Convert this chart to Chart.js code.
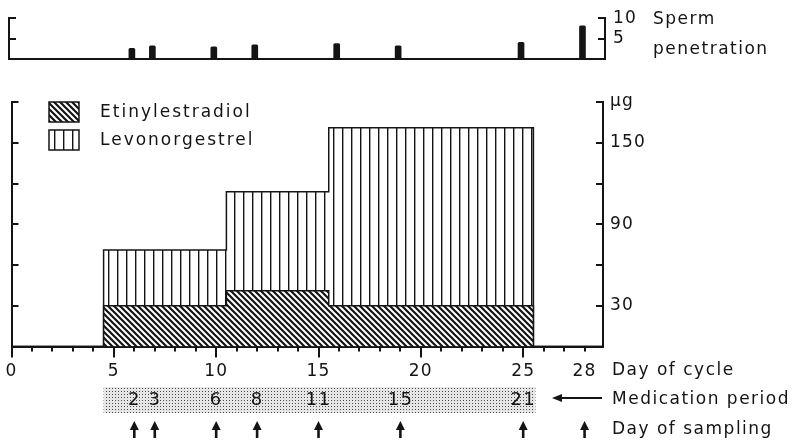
<!DOCTYPE html>
<html>
<head>
<meta charset="utf-8">
<script src="https://cdn.jsdelivr.net/npm/chart.js@4.4.1/dist/chart.umd.min.js"></script>
<style>
  body { margin: 0; background: #fff; }
  #wrap { position: relative; width: 799px; height: 443px; }
  canvas { position: absolute; left: 0; top: 0; }
</style>
</head>
<body>
<div id="wrap">
  <canvas id="grafico" width="799" height="443"></canvas>
  <canvas id="penetracao" width="799" height="80"></canvas>
</div>
<script>
// Dados
const faseInicio = [5, 11, 16];          // primeiro dia de cada fase
const faseFim = 25;                      // ultimo dia de medicacao
const etinilestradiol = [30, 41, 30];    // µg
const levonorgestrel = [41, 73, 131];    // µg (empilhado sobre EE)
const diasColeta = [6, 7, 10, 12, 15, 19, 25, 28];
const diaMedicacao = ['2', '3', '6', '8', '11', '15', '21', ''];
const diasPenetracao = [6, 7, 10, 12, 16, 19, 25, 28];
const penetracao = [2.6, 3.2, 3.0, 3.5, 3.8, 3.2, 4.1, 8.1];
const rotulosDia = [0, 5, 10, 15, 20, 25, 28];
const rotulosUg = [30, 90, 150];

const FONTE = '"DejaVu Sans", sans-serif';
const PRETO = '#141414';
const xMax = 28.9;

Chart.defaults.font.family = FONTE;
Chart.defaults.font.size = 17;
Chart.defaults.color = PRETO;

// Padroes de preenchimento
function padrao(w, h, desenha) {
  const c = document.createElement('canvas');
  c.width = w; c.height = h;
  const g = c.getContext('2d');
  desenha(g);
  return g.createPattern(c, 'repeat');
}
const hachura = padrao(6, 6, g => {
  g.fillStyle = '#fff'; g.fillRect(0, 0, 6, 6);
  g.strokeStyle = PRETO; g.lineWidth = 2.2;
  g.beginPath();
  g.moveTo(-1, -1); g.lineTo(7, 7);
  g.moveTo(-1, 5); g.lineTo(1, 7);
  g.moveTo(5, -1); g.lineTo(7, 1);
  g.stroke();
});
const listras = padrao(9, 4, g => {
  g.fillStyle = '#fff'; g.fillRect(0, 0, 9, 4);
  g.fillStyle = PRETO; g.fillRect(0, 0, 1.4, 4);
});
const pontilhado = padrao(3, 3, g => {
  g.fillStyle = '#e6e6e6'; g.fillRect(0, 0, 3, 3);
  g.fillStyle = '#4a4a4a'; g.fillRect(1, 1, 1, 1);
});

// Contorno em degraus a partir das fases
function degraus(valores) {
  const pts = [{ x: 0, y: 0 }];
  faseInicio.forEach((d, i) => pts.push({ x: d - 0.5, y: valores[i] }));
  pts.push({ x: faseFim + 0.5, y: 0 });
  pts.push({ x: xMax, y: 0 });
  return pts;
}
const total = levonorgestrel.map((v, i) => v + etinilestradiol[i]);

// Divisorias verticais entre as fases
const divisorias = faseInicio.slice(1).map((d, i) => ({
  type: 'line',
  label: '',
  data: [{ x: d - 0.5, y: 0 }, { x: d - 0.5, y: Math.min(total[i], total[i + 1]) }],
  borderColor: PRETO,
  borderWidth: 1.5,
  pointRadius: 0,
  fill: false
}));

const espacamento = {
  id: 'espacamento',
  beforeLayout(chart) { chart.ctx.letterSpacing = '1.2px'; },
  beforeDraw(chart) { chart.ctx.letterSpacing = '1.2px'; }
};

function seta(ctx, x, yTopo, yBase) {
  ctx.lineWidth = 2.6;
  ctx.beginPath();
  ctx.moveTo(x, yTopo + 6); ctx.lineTo(x, yBase);
  ctx.stroke();
  ctx.beginPath();
  ctx.moveTo(x - 4.5, yTopo + 9); ctx.lineTo(x, yTopo); ctx.lineTo(x + 4.5, yTopo + 9);
  ctx.closePath(); ctx.fill();
}

// Tracinhos internos dos eixos y
function tracinhos(chart, compr) {
  const { ctx, chartArea, scales } = chart;
  ctx.save();
  ctx.strokeStyle = PRETO; ctx.lineWidth = 2;
  ctx.beginPath();
  ['y', 'yR'].forEach(id => {
    const s = scales[id];
    const borda = id === 'y' ? chartArea.left : chartArea.right;
    const sinal = id === 'y' ? 1 : -1;
    s.ticks.forEach(t => {
      if (t.value <= 0) return;
      const py = Math.round(s.getPixelForValue(t.value));
      ctx.moveTo(borda, py); ctx.lineTo(borda + sinal * compr, py);
    });
  });
  ctx.stroke();
  ctx.restore();
}

const extras = {
  id: 'extras',
  afterDraw(chart) {
    const { ctx, chartArea, scales: { x } } = chart;
    tracinhos(chart, 7);
    ctx.save();
    ctx.strokeStyle = PRETO; ctx.fillStyle = PRETO;
    // marcas do eixo x
    ctx.lineWidth = 2;
    ctx.beginPath();
    x.ticks.forEach(t => {
      const px = Math.round(x.getPixelForValue(t.value));
      const l = t.value % 5 === 0 ? 11 : 5;
      ctx.moveTo(px, chartArea.bottom); ctx.lineTo(px, chartArea.bottom + l);
    });
    ctx.stroke();

    // legenda
    const itens = [
      { nome: chart.data.datasets[0].label, fundo: hachura, y: 102 },
      { nome: chart.data.datasets[1].label, fundo: listras, y: 130 }
    ];
    ctx.font = '17px ' + FONTE;
    ctx.textBaseline = 'middle';
    ctx.textAlign = 'left';
    ctx.letterSpacing = '2px';
    itens.forEach(it => {
      ctx.fillStyle = it.fundo;
      ctx.fillRect(49, it.y, 30, 20);
      ctx.lineWidth = 1.5;
      ctx.strokeRect(49, it.y, 30, 20);
      ctx.fillStyle = PRETO;
      ctx.fillText(it.nome, 100, it.y + 11);
    });
    ctx.letterSpacing = '1.2px';

    // periodo de medicacao
    const x0 = x.getPixelForValue(faseInicio[0] - 0.5);
    const x1 = x.getPixelForValue(faseFim + 0.6);
    ctx.fillStyle = pontilhado;
    ctx.fillRect(x0, 387, x1 - x0, 26);
    ctx.fillStyle = PRETO;
    ctx.textAlign = 'center';
    ctx.font = '18px ' + FONTE;
    diasColeta.forEach((d, i) => {
      const px = x.getPixelForValue(d);
      if (diaMedicacao[i]) ctx.fillText(diaMedicacao[i], px, 400);
      seta(ctx, px, 421, 438);
    });

    // textos da direita
    ctx.font = '17px ' + FONTE;
    ctx.textAlign = 'left';
    ctx.letterSpacing = '1.5px';
    ctx.fillText('Day of cycle', 612, 371);
    ctx.fillText('Medication period', 612, 400);
    ctx.fillText('Day of sampling', 612, 430);
    // seta da medicacao
    ctx.lineWidth = 2;
    ctx.beginPath(); ctx.moveTo(558, 398); ctx.lineTo(602, 398); ctx.stroke();
    ctx.beginPath(); ctx.moveTo(552, 398); ctx.lineTo(562, 394); ctx.lineTo(562, 402); ctx.closePath(); ctx.fill();
    ctx.restore();
  }
};

const eixoBorda = { display: true, color: PRETO, width: 2 };
const semGrade = { display: true, drawOnChartArea: false, color: 'transparent' };

// Grafico principal com Chart.js
const grafico = new Chart(document.getElementById('grafico'), {
  type: 'line',
  data: {
    datasets: [
      {
        label: 'Etinylestradiol',
        data: degraus(etinilestradiol),
        stepped: 'before',
        borderColor: PRETO,
        borderWidth: 1.5,
        pointRadius: 0,
        backgroundColor: hachura,
        fill: 'origin'
      },
      {
        label: 'Levonorgestrel',
        data: degraus(total),
        stepped: 'before',
        borderColor: PRETO,
        borderWidth: 1.5,
        pointRadius: 0,
        backgroundColor: listras,
        fill: '-1'
      },
      ...divisorias
    ]
  },
  options: {
    responsive: false,
    animation: false,
    layout: { padding: { top: 102, left: 0, right: 0, bottom: 0 } },
    scales: {
      x: {
        type: 'linear',
        min: 0,
        max: xMax,
        afterBuildTicks: s => { s.ticks = Array.from({ length: 29 }, (_, i) => ({ value: i })); },
        afterFit: s => { s.height = 443 - 346.5; },
        ticks: {
          autoSkip: false, maxRotation: 0, padding: 4,
          callback: v => rotulosDia.includes(v) ? String(v) : ''
        },
        grid: { ...semGrade, tickLength: 11 },
        border: eixoBorda
      },
      y: {
        min: 0, max: 180,
        ticks: { display: false, stepSize: 30 },
        afterFit: s => { s.width = 11.5; },
        grid: { ...semGrade, drawTicks: false },
        border: eixoBorda
      },
      yR: {
        position: 'right',
        min: 0, max: 180,
        ticks: {
          stepSize: 30, padding: 7, autoSkip: false,
          callback: v => v === 180 ? 'µg' : (rotulosUg.includes(v) ? String(v) : '')
        },
        afterFit: s => { s.width = 799 - 603; },
        grid: { ...semGrade, drawTicks: false },
        border: eixoBorda
      }
    },
    plugins: { legend: { display: false }, tooltip: { enabled: false } }
  },
  plugins: [espacamento, extras]
});

// Painel superior: penetracao de espermatozoides
const textoPenetracao = {
  id: 'textoPenetracao',
  afterDraw(chart) {
    const { ctx } = chart;
    tracinhos(chart, 7);
    ctx.save();
    ctx.fillStyle = PRETO;
    ctx.font = '17px ' + FONTE;
    ctx.textBaseline = 'middle';
    ctx.letterSpacing = '1.5px';
    ctx.fillText('Sperm', 653, 20);
    ctx.fillText('penetration', 653, 50);
    ctx.restore();
  }
};

new Chart(document.getElementById('penetracao'), {
  type: 'bar',
  data: {
    datasets: [{
      data: diasPenetracao.map((d, i) => ({ x: d, y: penetracao[i] })),
      backgroundColor: PRETO,
      barThickness: 6,
      borderRadius: 1.5
    }]
  },
  options: {
    responsive: false,
    animation: false,
    layout: { padding: { top: 16.5, left: 0, right: 0, bottom: 0 } },
    scales: {
      x: {
        type: 'linear', min: 0, max: 29.1,
        offset: false,
        ticks: { display: false },
        grid: { display: false, offset: false },
        afterFit: s => { s.height = 80 - 59; },
        border: eixoBorda
      },
      y: {
        min: 0, max: 10,
        ticks: { display: false, stepSize: 5 },
        grid: { display: false, drawTicks: false },
        afterFit: s => { s.width = 9; },
        border: eixoBorda
      },
      yR: {
        position: 'right',
        min: 0, max: 10,
        ticks: { stepSize: 5, padding: 8, autoSkip: false, callback: v => v ? String(v) : '' },
        grid: { display: false, drawTicks: false },
        afterFit: s => { s.width = 799 - 605; },
        border: eixoBorda
      }
    },
    plugins: { legend: { display: false }, tooltip: { enabled: false } }
  },
  plugins: [espacamento, textoPenetracao]
});
</script>
</body>
</html>
